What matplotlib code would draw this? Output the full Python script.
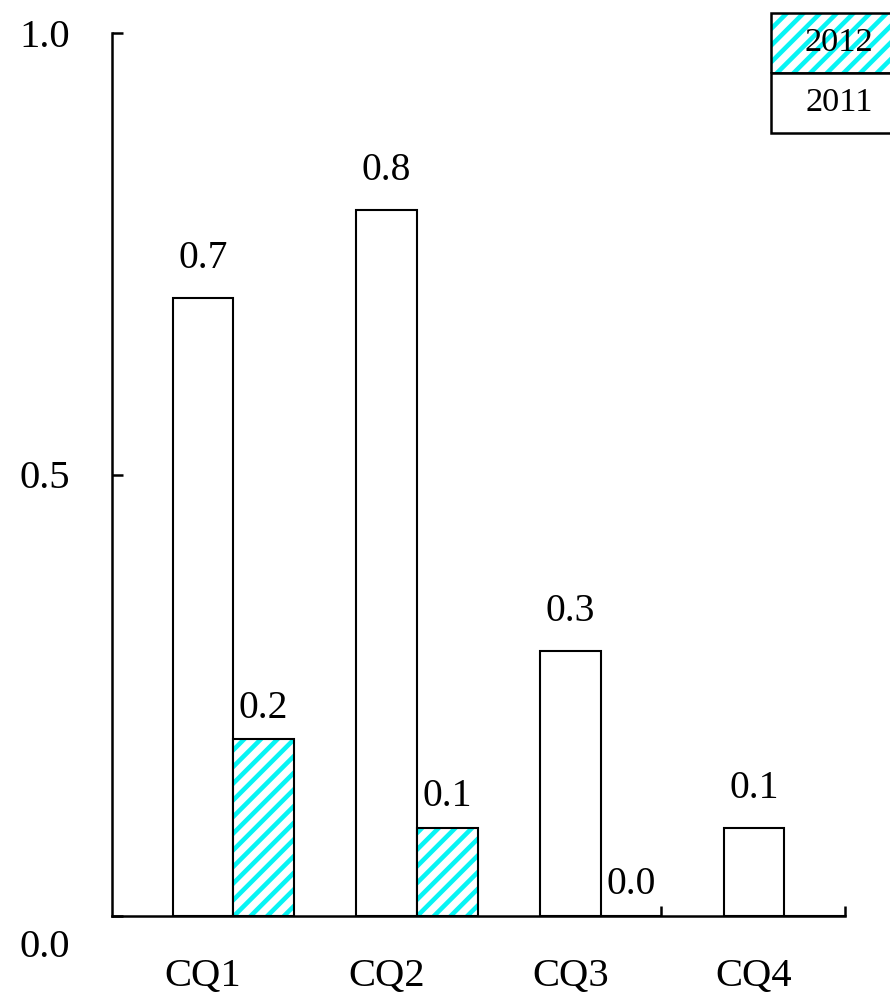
import numpy as np
import matplotlib.pyplot as plt
import matplotlib.transforms as mtransforms
from matplotlib.patches import Rectangle

plt.rcParams['font.family'] = ['Liberation Serif', 'DejaVu Serif']
plt.rcParams['hatch.linewidth'] = 2.2

# quarterly values per year
quarters = ['CQ1', 'CQ2', 'CQ3', 'CQ4']
vals_2011 = [0.7, 0.8, 0.3, 0.1]
vals_2012 = [0.2, 0.1, 0.0, np.nan]
yticks = [0.0, 0.5, 1.0]

cyan = '#08f4f4'
w = 0.33
dpi = 150
fig = plt.figure(figsize=(890 / dpi, 994 / dpi), dpi=dpi)
ax = fig.add_axes([112 / 890, 78 / 994, 733 / 890, 883 / 994])

x = np.arange(len(quarters))
v12 = np.nan_to_num(vals_2012)

ax.bar(x - w / 2, vals_2011, w, color='white', edgecolor='black', linewidth=1.0)
# hatch first, then a plain outline on top
ax.bar(x + w / 2, v12, w, color='white', edgecolor=cyan, hatch='///', linewidth=0)
ax.bar(x + w / 2, v12, w, color='none', edgecolor='black', linewidth=1.0)

for xi, v in zip(x, vals_2011):
    ax.annotate(f'{v:.1f}', (xi - w / 2, v), xytext=(0, 10), textcoords='offset points',
                ha='center', va='bottom', fontsize=19)
for xi, v in zip(x, vals_2012):
    if np.isnan(v):
        continue
    ax.annotate(f'{v:.1f}', (xi + w / 2, v), xytext=(0, 6), textcoords='offset points',
                ha='center', va='bottom', fontsize=19)

ax.set_xlim(-0.66, x[-1] + w)
ax.set_ylim(0, 1)
ax.set_yticks(yticks)
ax.set_yticklabels([f'{t:.1f}' for t in yticks], fontsize=19.5)
ax.set_xticks(x - w / 2)
ax.set_xticklabels(quarters, fontsize=19.5)
# small marks where the 2012 bar is empty
ax.set_xticks([xi + w for xi, v in zip(x, v12) if v == 0], minor=True)

ax.tick_params(axis='x', which='major', length=0, pad=20)
ax.tick_params(axis='x', which='minor', direction='in', length=5, width=1.2)
ax.tick_params(axis='y', direction='in', length=5.3, width=1.2, pad=20)
for s in ['top', 'right']:
    ax.spines[s].set_visible(False)
for s in ['left', 'bottom']:
    ax.spines[s].set_linewidth(1.2)

# push the bottom y label down a bit
lab0 = ax.get_yticklabels()[0]
lab0.set_transform(lab0.get_transform() + mtransforms.ScaledTranslation(0, -13 / 72, fig.dpi_scale_trans))

# legend box: stacked cells in the corner
x0, x1 = 771 / 890, 1.1
ymid, ybot, ytop = 921 / 994, 861 / 994, 981 / 994
fig.add_artist(Rectangle((x0, ymid), x1 - x0, ytop - ymid, transform=fig.transFigure,
                         facecolor='white', edgecolor=cyan, hatch='///', linewidth=0))
fig.add_artist(Rectangle((x0, ymid), x1 - x0, ytop - ymid, transform=fig.transFigure,
                         facecolor='none', edgecolor='black', linewidth=1.2))
fig.add_artist(Rectangle((x0, ybot), x1 - x0, ymid - ybot, transform=fig.transFigure,
                         facecolor='white', edgecolor='black', linewidth=1.2))
fig.text(839 / 890, (ymid + ytop) / 2, '2012', ha='center', va='center', fontsize=16.5)
fig.text(839 / 890, (ybot + ymid) / 2, '2011', ha='center', va='center', fontsize=16.5)

fig.savefig('out.png', dpi=dpi)
